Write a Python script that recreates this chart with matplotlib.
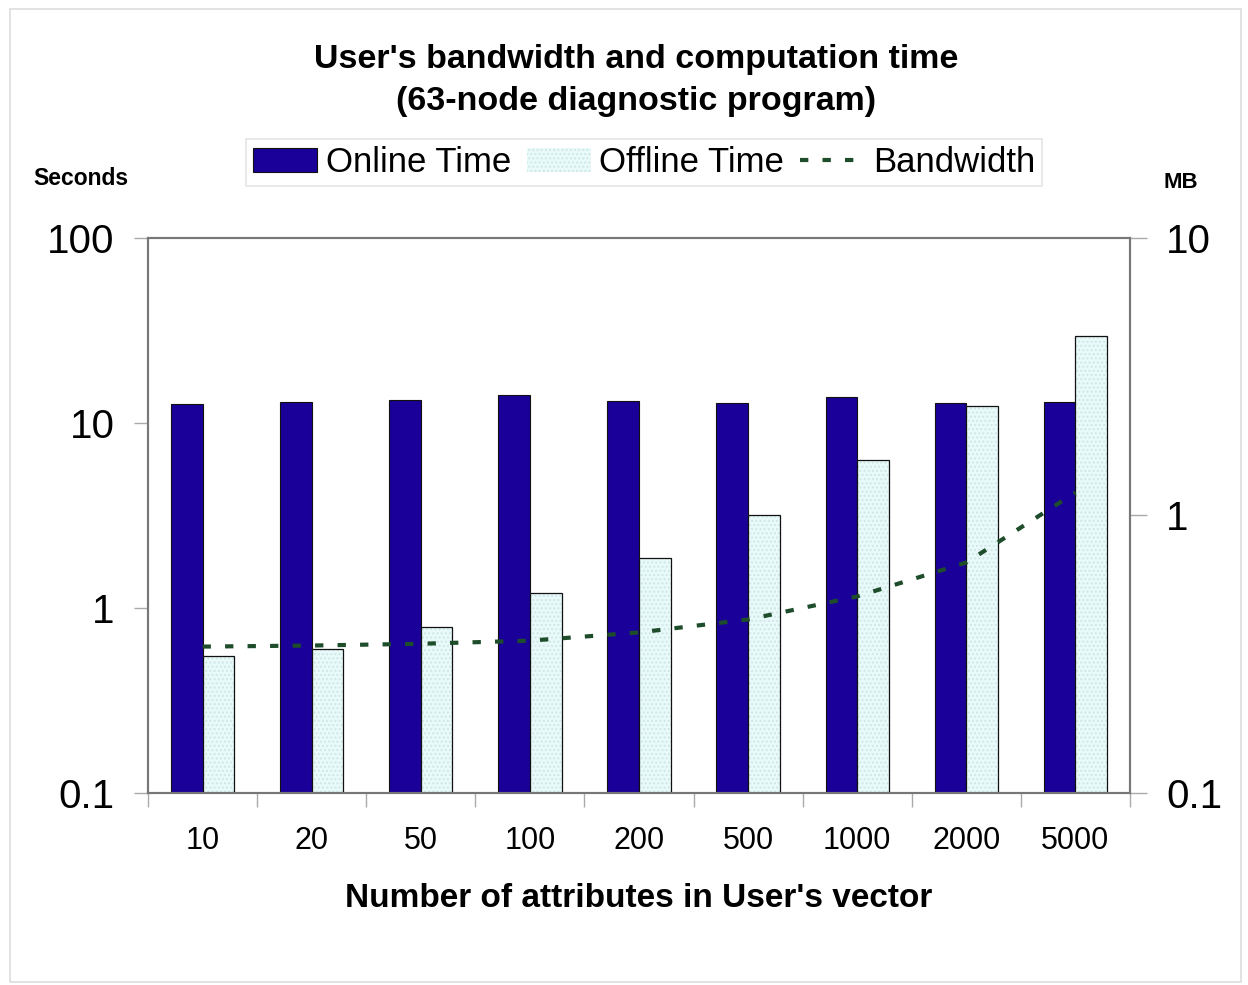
import matplotlib.pyplot as plt
from matplotlib.patches import Rectangle
from matplotlib.ticker import FixedLocator, FixedFormatter, NullLocator
import numpy as np

plt.rcParams['font.family'] = ['Liberation Sans', 'DejaVu Sans']

categories = ['10', '20', '50', '100', '200', '500', '1000', '2000', '5000']
online_time = [12.7, 13.0, 13.3, 14.2, 13.1, 12.8, 13.8, 12.8, 13.0]
offline_time = [0.54, 0.59, 0.78, 1.19, 1.86, 3.18, 6.3, 12.3, 29.5]
bandwidth_mb = [0.337, 0.340, 0.345, 0.354, 0.379, 0.422, 0.511, 0.677, 1.21]

fig = plt.figure(figsize=(12.48, 9.85), dpi=100)
fig.patches.append(Rectangle((0.008, 0.003), 0.986, 0.988, transform=fig.transFigure,
                             fill=False, edgecolor='#dddddd', linewidth=1.2))

ax = fig.add_axes([0.1186, 0.1949, 0.7868, 0.5635])
x = np.arange(len(categories))
w = 0.29

ax.bar(x - w / 2, online_time, w, bottom=0.01, color='#1a0099', edgecolor='#111111',
       linewidth=0.8, label='Online Time', zorder=2)
ax.bar(x + w / 2, offline_time, w, bottom=0.01, color='#e8fafa', edgecolor='#d2e6e6',
       hatch='....', linewidth=0, label='Offline Time', zorder=2)
ax.bar(x + w / 2, offline_time, w, bottom=0.01, facecolor='none', edgecolor='#111111',
       linewidth=0.9, zorder=3)

ax.set_yscale('log')
ax.set_ylim(0.1, 100)
ax.set_xlim(-0.5, len(categories) - 0.5)
ax.yaxis.set_major_locator(FixedLocator([0.1, 1, 10, 100]))
ax.yaxis.set_major_formatter(FixedFormatter(['0.1', '1', '10', '100']))
ax.yaxis.set_minor_locator(NullLocator())
ax.tick_params(axis='y', labelsize=29, length=10, width=1, color='#aaaaaa', pad=14)

ax.set_xticks(x)
ax.set_xticklabels(categories)
ax.set_xticks(np.arange(-0.5, len(categories)), minor=True)
ax.tick_params(axis='x', which='major', length=0, labelsize=22, pad=24)
ax.tick_params(axis='x', which='minor', length=10, width=1, color='#aaaaaa', direction='out')
ax.set_xlabel("Number of attributes in User's vector", fontsize=24, fontweight='bold', labelpad=19)

for side in ['left', 'bottom', 'top', 'right']:
    ax.spines[side].set_color('#777777')
    ax.spines[side].set_linewidth(1.5)

ax2 = ax.twinx()
ax2.plot(x, bandwidth_mb, linestyle=(0, (2.0, 3.4)), color='#1e4d2b', linewidth=3,
         label='Bandwidth', zorder=4)
ax2.set_yscale('log')
ax2.set_ylim(0.1, 10)
ax2.yaxis.set_major_locator(FixedLocator([0.1, 1, 10]))
ax2.yaxis.set_major_formatter(FixedFormatter(['0.1', '1', '10']))
ax2.yaxis.set_minor_locator(NullLocator())
ax2.tick_params(axis='y', labelsize=29, length=12, width=1, color='#aaaaaa', pad=14)
for side in ['left', 'bottom', 'top', 'right']:
    ax2.spines[side].set_color('#777777')
    ax2.spines[side].set_linewidth(1.5)

fig.text(0.51, 0.940, "User's bandwidth and computation time", ha='center', va='center',
         fontsize=24.5, fontweight='bold')
fig.text(0.51, 0.897, "(63-node diagnostic program)", ha='center', va='center',
         fontsize=24.5, fontweight='bold')
fig.text(0.065, 0.819, 'Seconds', ha='center', va='center', fontsize=16.5, fontweight='bold')
fig.text(0.946, 0.815, 'MB', ha='center', va='center', fontsize=16, fontweight='bold')

h1, l1 = ax.get_legend_handles_labels()
h2, l2 = ax2.get_legend_handles_labels()
leg = fig.legend(h1 + h2, l1 + l2, loc='center', bbox_to_anchor=(0.516, 0.835), ncol=3,
                 fontsize=25, frameon=True, fancybox=False, edgecolor='#dddddd',
                 handlelength=1.85, handleheight=0.7, handletextpad=0.25, columnspacing=0.45,
                 borderpad=0.2, borderaxespad=0)
leg.get_frame().set_linewidth(1.2)

fig.savefig('out.png', dpi=100)
